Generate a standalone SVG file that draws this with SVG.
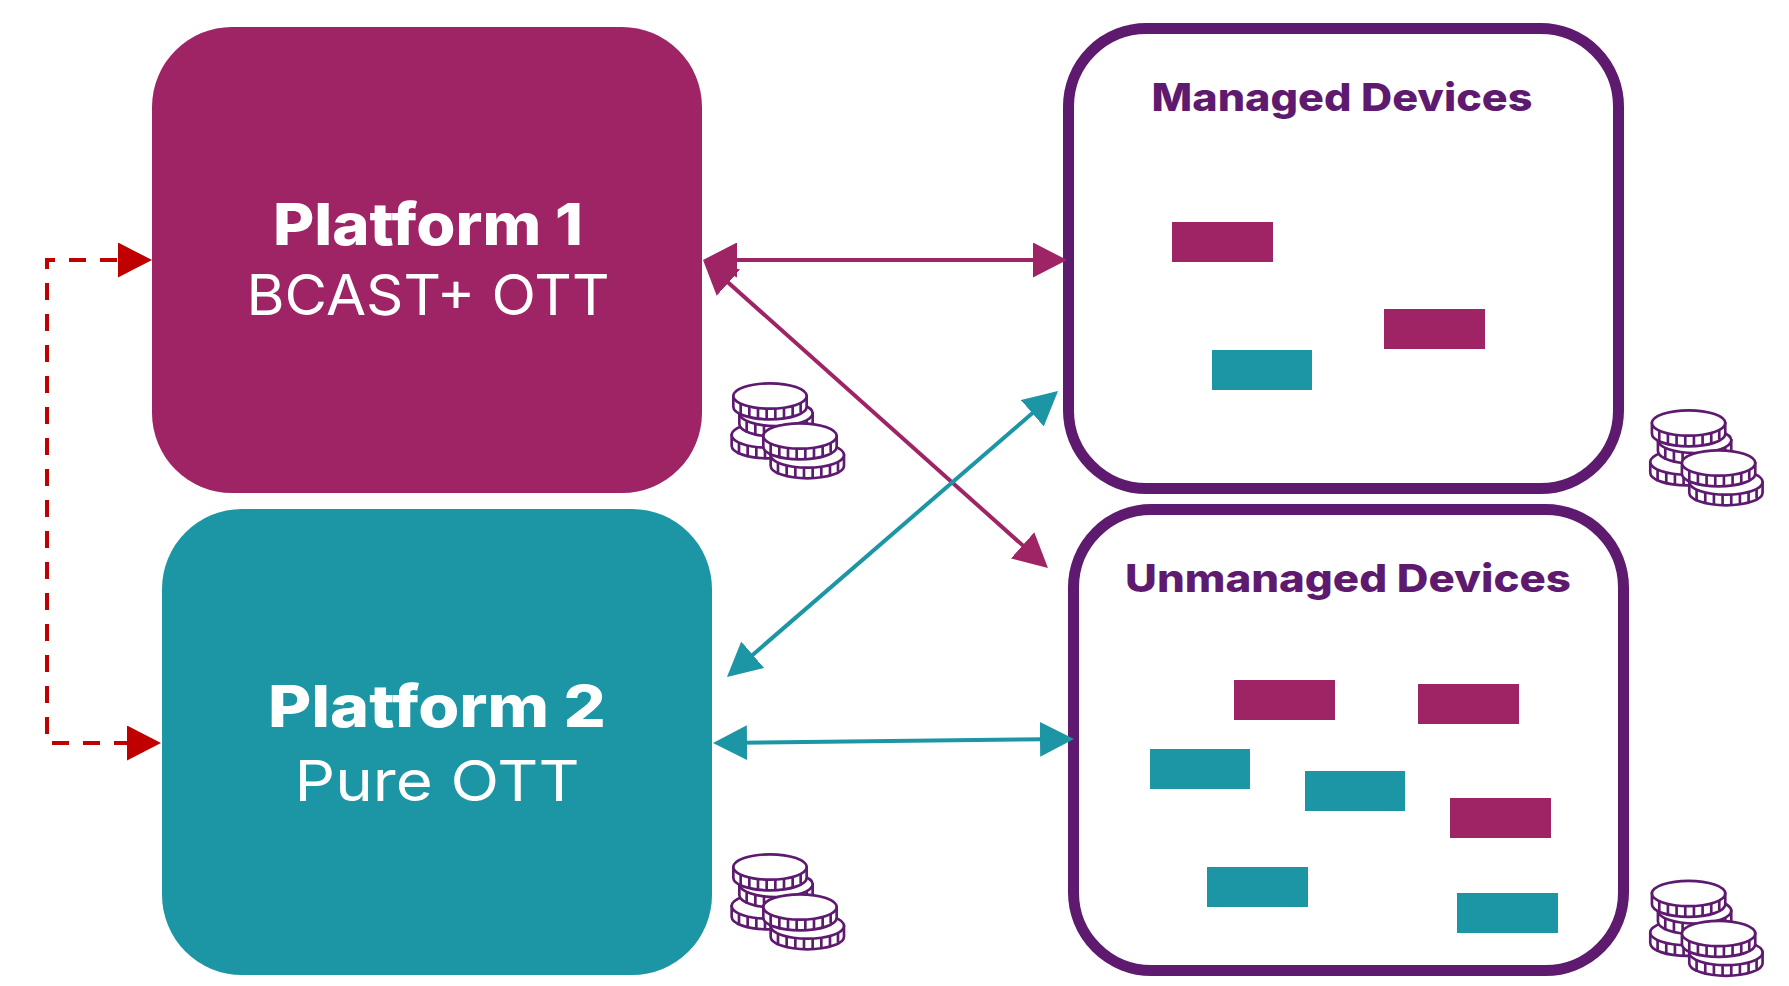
<svg xmlns="http://www.w3.org/2000/svg" width="1789" height="986" viewBox="0 0 1789 986">
<style>
.pur{fill:#9e2466}.teal{fill:#1c95a5}
.dev{fill:#fff;stroke:#5e1a6f;stroke-width:11}
text{font-family:Inter,"Liberation Sans",sans-serif;text-anchor:middle}
.title{font-weight:800;font-size:58px;fill:#fff}
.sub{font-weight:400;font-size:56px;fill:#fff}
.head{font-weight:800;font-size:38px;fill:#5e1a6f}
.lp{fill:none;stroke:#9e2466;stroke-width:4}
.lt{fill:none;stroke:#1c95a5;stroke-width:4}
.lr{fill:none;stroke:#c00000;stroke-width:4;stroke-dasharray:17 14}
.coin{fill:#fff;stroke:#5e1a6f;stroke-width:8}
</style>
<defs>
<marker id="ap" markerUnits="userSpaceOnUse" viewBox="0 0 34 35" markerWidth="34" markerHeight="35" refX="30" refY="17.5" orient="auto-start-reverse"><path d="M0 0L34 17.5L0 35Z" fill="#9e2466"/></marker>
<marker id="at" markerUnits="userSpaceOnUse" viewBox="0 0 34 35" markerWidth="34" markerHeight="35" refX="30" refY="17.5" orient="auto-start-reverse"><path d="M0 0L34 17.5L0 35Z" fill="#1c95a5"/></marker>
<marker id="ar" markerUnits="userSpaceOnUse" viewBox="0 0 34 35" markerWidth="34" markerHeight="35" refX="30" refY="17.5" orient="auto-start-reverse"><path d="M0 0L34 17.5L0 35Z" fill="#c00000"/></marker>
<g id="c1" class="coin">
<path d="M-110 0V32C-110 53-61 70 0 70S110 53 110 32V0Z"/>
<ellipse rx="110" ry="38"/>
<path d="M-88 24V58M-62 33V66M-36 37V69M-10 38V70M16 38V70M42 36V68M68 31V64M92 22V50" fill="none"/>
</g>
<g id="coins" transform="scale(.3333)">
<use href="#c1" x="205" y="225"/>
<use href="#c1" x="228" y="160"/>
<use href="#c1" x="210" y="108"/>
<use href="#c1" x="322" y="285"/>
<use href="#c1" x="300" y="228"/>
</g>
</defs>

<g id="platform1"><rect class="pur" x="152" y="27" width="550" height="466" rx="80"/>
<text class="title" x="428" y="245" textLength="310" lengthAdjust="spacingAndGlyphs">Platform 1</text>
<text class="sub" x="428" y="315" textLength="363" lengthAdjust="spacingAndGlyphs">BCAST+ OTT</text></g>
<g id="platform2"><rect class="teal" x="162" y="509" width="550" height="466" rx="80"/>
<text class="title" x="437" y="727" textLength="338" lengthAdjust="spacingAndGlyphs">Platform 2</text>
<text class="sub" x="437" y="801" textLength="285" lengthAdjust="spacingAndGlyphs">Pure OTT</text></g>
<g id="managed"><rect class="dev" x="1068.500" y="28.500" width="550" height="460" rx="78"/>
<text class="head" x="1342" y="111" textLength="381" lengthAdjust="spacingAndGlyphs">Managed Devices</text>
<rect class="pur" x="1172" y="222" width="101" height="40"/><rect class="pur" x="1384" y="309" width="101" height="40"/><rect class="teal" x="1212" y="350" width="100" height="40"/></g>
<g id="unmanaged"><rect class="dev" x="1073.500" y="509.500" width="550" height="461" rx="78"/>
<text class="head" x="1348" y="592" textLength="446" lengthAdjust="spacingAndGlyphs">Unmanaged Devices</text>
<rect class="pur" x="1234" y="680" width="101" height="40"/><rect class="pur" x="1418" y="684" width="101" height="40"/><rect class="pur" x="1450" y="798" width="101" height="40"/>
<rect class="teal" x="1150" y="749" width="100" height="40"/><rect class="teal" x="1305" y="771" width="100" height="40"/><rect class="teal" x="1207" y="867" width="101" height="40"/><rect class="teal" x="1457" y="893" width="101" height="40"/></g>

<g id="coins1"><use href="#coins" transform="translate(700 360)"/></g>
<g id="coins2"><use href="#coins" transform="translate(1618.600 387)"/></g>
<g id="coins3"><use href="#coins" transform="translate(700 831)"/></g>
<g id="coins4"><use href="#coins" transform="translate(1618.600 857.500)"/></g>

<g id="connectors">
<path class="lp" d="M707 260H1063" marker-start="url(#ap)" marker-end="url(#ap)"/>
<path class="lp" d="M706 262.700L1045 565.300" marker-start="url(#ap)" marker-end="url(#ap)"/>
<path class="lt" d="M1055 393.600L730 674.400" marker-start="url(#at)" marker-end="url(#at)"/>
<path class="lt" d="M717 743L1070 739" marker-start="url(#at)" marker-end="url(#at)"/>
<path class="lr" d="M148 260H47V743H157" marker-start="url(#ar)" marker-end="url(#ar)"/>
</g>
</svg>
